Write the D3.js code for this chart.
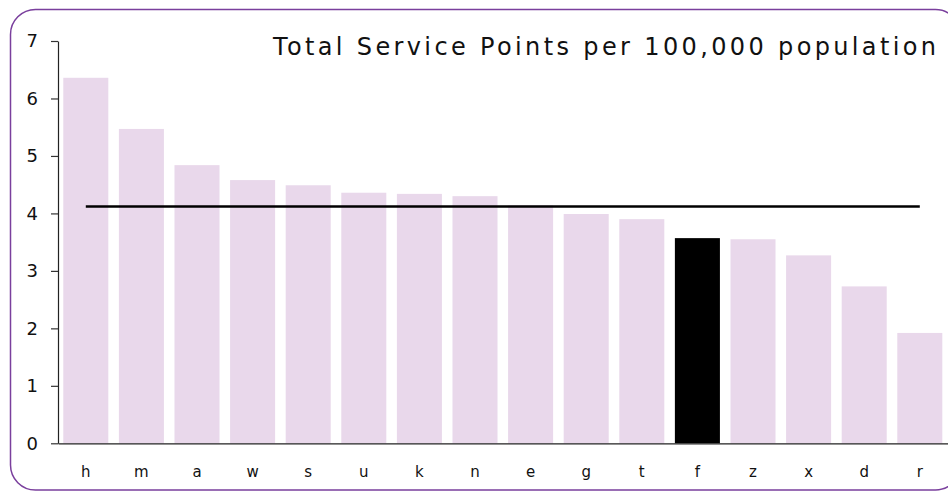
<!DOCTYPE html>
<html>
<head>
<meta charset="utf-8">
<script src="https://cdn.jsdelivr.net/npm/d3@7"></script>
<style>
  html, body { margin: 0; padding: 0; background: #fff; }
  svg { display: block; }
</style>
</head>
<body>
<script>
const categories = ['h','m','a','w','s','u','k','n','e','g','t','f','z','x','d','r'];
const values = [6.36, 5.47, 4.84, 4.58, 4.49, 4.36, 4.34, 4.30, 4.14, 3.99, 3.90, 3.57, 3.55, 3.27, 2.73, 1.92];
const averageLine = [4.12, 4.12, 4.12, 4.12, 4.12, 4.12, 4.12, 4.12, 4.12, 4.12, 4.12, 4.12, 4.12, 4.12, 4.12, 4.12];
const highlighted = 'f';
const yTicks = [0, 1, 2, 3, 4, 5, 6, 7];
const title = 'Total Service Points per 100,000 population';

const W = 948, H = 492;
const svg = d3.select('body').append('svg').attr('width', W).attr('height', H);

// frame
svg.append('rect')
  .attr('x', 10.5).attr('y', 9.5)
  .attr('width', 950).attr('height', 480.5)
  .attr('rx', 25).attr('ry', 25)
  .attr('fill', 'none').attr('stroke', '#7a3f9d').attr('stroke-width', 1.5);

const x = d3.scaleBand().domain(categories).range([58, 947.6]).paddingInner(0.19).paddingOuter(0.095);
const y = d3.scaleLinear().domain([0, 7]).range([443.3, 41]);

const data = categories.map((c, i) => ({ c, v: values[i], a: averageLine[i] }));

// bars
svg.append('g').selectAll('rect').data(data).join('rect')
  .attr('x', d => x(d.c))
  .attr('y', d => y(d.v))
  .attr('width', x.bandwidth())
  .attr('height', d => y(0) - y(d.v))
  .attr('fill', d => d.c === highlighted ? '#000' : '#e9d8eb');

// average line
const line = d3.line().x(d => x(d.c) + x.bandwidth() / 2).y(d => y(d.a));
svg.append('path').datum(data)
  .attr('d', line)
  .attr('fill', 'none').attr('stroke', '#000').attr('stroke-width', 2.5);

// left axis
const yAxis = svg.append('g').attr('transform', 'translate(58,0)')
  .call(d3.axisLeft(y).tickValues(yTicks).tickFormat(d3.format('d')).tickSize(7).tickSizeOuter(0).tickPadding(13));
yAxis.select('.domain').attr('stroke', '#222').attr('stroke-width', 1.2);
yAxis.selectAll('.tick line').attr('stroke', '#333').attr('stroke-width', 1.2);
yAxis.selectAll('.tick text').attr('font-family', 'DejaVu Sans, sans-serif').attr('font-size', 18).attr('fill', '#111');

// bottom axis
const xAxis = svg.append('g').attr('transform', `translate(0,${y(0)})`)
  .call(d3.axisBottom(x).tickSize(0).tickSizeOuter(0).tickPadding(23));
xAxis.select('.domain').attr('stroke', '#222').attr('stroke-width', 1.2);
xAxis.selectAll('.tick text').attr('font-family', 'DejaVu Sans, sans-serif').attr('font-size', 15).attr('fill', '#111');

// title
svg.append('text')
  .attr('x', 273).attr('y', 55)
  .attr('font-family', 'DejaVu Sans, sans-serif')
  .attr('font-size', 24)
  .attr('fill', '#111')
  .attr('textLength', 663)
  .attr('lengthAdjust', 'spacing')
  .text(title);
</script>
</body>
</html>
